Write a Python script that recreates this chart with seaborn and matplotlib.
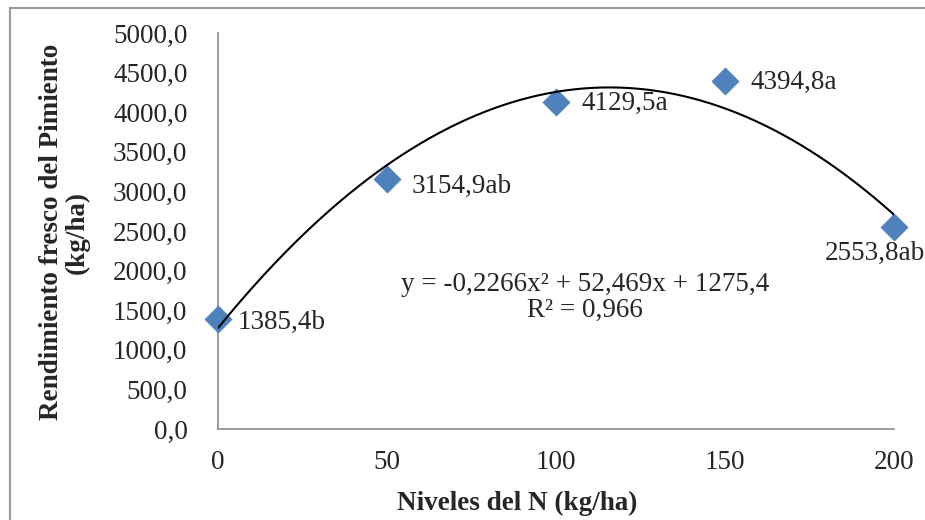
import numpy as np
import pandas as pd
import matplotlib.pyplot as plt
import seaborn as sns
from matplotlib.patches import Rectangle
from matplotlib.ticker import FuncFormatter

niveles = [0, 50, 100, 150, 200]
rendimiento = [1385.4, 3154.9, 4129.5, 4394.8, 2553.8]
etiquetas = ["1385,4b", "3154,9ab", "4129,5a", "4394,8a", "2553,8ab"]
# label offsets in points (dx, dy)
offsets = [(14, -2), (18, -5), (18, -1), (18, -1), (-50, -19)]

df = pd.DataFrame({"x": niveles, "y": rendimiento})

sns.set_style("white")
plt.rcParams["font.family"] = ["Liberation Serif", "DejaVu Serif"]
fs = 19.5

fig = plt.figure(figsize=(9.25, 5.2), dpi=100)
ax = fig.add_axes([0.2357, 0.175, 0.7308, 0.7615])

# trendline: 2nd order polynomial fitted to the data
coef = np.polyfit(niveles, rendimiento, 2)
xs = np.linspace(0, 200, 300)
ax.plot(xs, np.polyval(coef, xs), color="black", lw=1.5, zorder=4)

sns.scatterplot(data=df, x="x", y="y", marker="D", s=190, color="#4F81BD",
                edgecolor="#4F81BD", linewidth=0.5, ax=ax, zorder=3, clip_on=False)

for xv, yv, lab, (dx, dy) in zip(niveles, rendimiento, etiquetas, offsets):
    ax.annotate(lab, (xv, yv), xytext=(dx, dy), textcoords="offset points",
                ha="left", va="center", fontsize=fs, annotation_clip=False)

ax.text(0.543, 0.333, "y = -0,2266x² + 52,469x + 1275,4\nR² = 0,966",
        transform=ax.transAxes, ha="center", va="center", fontsize=fs,
        linespacing=1.05)

ax.set_xlim(0, 200)
ax.set_ylim(0, 5000)
ax.set_xticks([0, 50, 100, 150, 200])
ax.set_yticks(np.arange(0, 5001, 500))
ax.yaxis.set_major_formatter(FuncFormatter(lambda v, p: f"{v:.1f}".replace(".", ",")))

for s in ["top", "right"]:
    ax.spines[s].set_visible(False)
for s in ["left", "bottom"]:
    ax.spines[s].set_color("#8c8c8c")
    ax.spines[s].set_linewidth(1.2)
ax.tick_params(axis="both", direction="out", length=6, width=1.2, color="#8c8c8c",
               labelsize=fs)
ax.tick_params(axis="y", pad=16)
ax.tick_params(axis="x", pad=9)

ax.set_xlabel("Niveles del N (kg/ha)", fontsize=fs, fontweight="bold")
ax.xaxis.set_label_coords(0.442, -0.155)
ax.set_ylabel("Rendimiento fresco del Pimiento\n(kg/ha)", fontsize=fs,
              fontweight="bold", linespacing=1.0)
ax.yaxis.set_label_coords(-0.19, 0.497)

fig.patches.append(Rectangle((9.5 / 925, -0.1), 1.2, 1.1 - 8.5 / 520,
                             transform=fig.transFigure, fill=False,
                             edgecolor="#9a9a9a", lw=1.5))

fig.savefig("out.png", dpi=100)
